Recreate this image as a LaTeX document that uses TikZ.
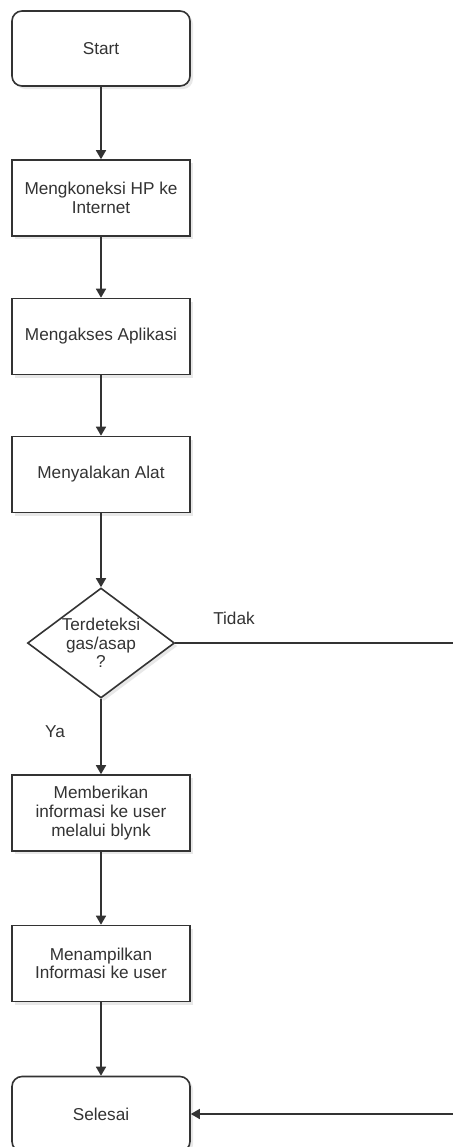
\documentclass[tikz,border=0pt]{standalone}
\usepackage{fontspec}
\setmainfont{Liberation Sans}
\usetikzlibrary{shapes.geometric,arrows.meta,shadows}

\tikzset{
  flowshadow/.style={drop shadow={opacity=0.18,shadow xshift=1.5pt,shadow yshift=-1.5pt}},
  terminal/.style={draw,thick,fill=white,rounded corners=5pt,minimum width=89pt,minimum height=37.5pt,flowshadow},
  process/.style={draw,thick,fill=white,minimum width=89pt,minimum height=38pt,align=center,flowshadow},
  decision/.style={draw,thick,fill=white,diamond,inner sep=0pt,minimum width=73.5pt,minimum height=55pt,flowshadow},
  flow/.style={thick,-{Triangle[length=4.5pt,width=5pt]}},
}

\begin{document}
\begin{tikzpicture}[x=0.5pt,y=-0.5pt]
\fontsize{8.6}{9.3}\selectfont
\color{black!80}
\clip (0,0) rectangle (453,1147);

\node[terminal] (start) at (101,48.5) {Start};
\node[process] (koneksi) at (101,198) {Mengkoneksi HP ke\\Internet};
\node[process] (akses) at (101,336.5) {Mengakses Aplikasi};
\node[process] (alat) at (101,474.5) {Menyalakan Alat};
\node[decision, label={[align=center]center:Terdeteksi\\gas/asap\\?}] (deteksi) at (101,643) {};
\node[process] (info) at (101,813) {Memberikan\\informasi ke user\\melalui blynk};
\node[process] (tampil) at (101,963.5) {Menampilkan\\Informasi ke user};
\node[terminal] (selesai) at (101,1114) {Selesai};

\node (tidak) at (234,618) {Tidak};
\node (ya) at (55,732) {Ya};

\coordinate (kanan) at (475,643);

\draw[flow] (start) -- (koneksi);
\draw[flow] (koneksi) -- (akses);
\draw[flow] (akses) -- (alat);
\draw[flow] (alat) -- (deteksi);
\draw[flow] (deteksi) -- (info);
\draw[flow] (info) -- (tampil);
\draw[flow] (tampil) -- (selesai);
\draw[flow] (deteksi.east) -- (kanan) |- (selesai.east);
\end{tikzpicture}
\end{document}
